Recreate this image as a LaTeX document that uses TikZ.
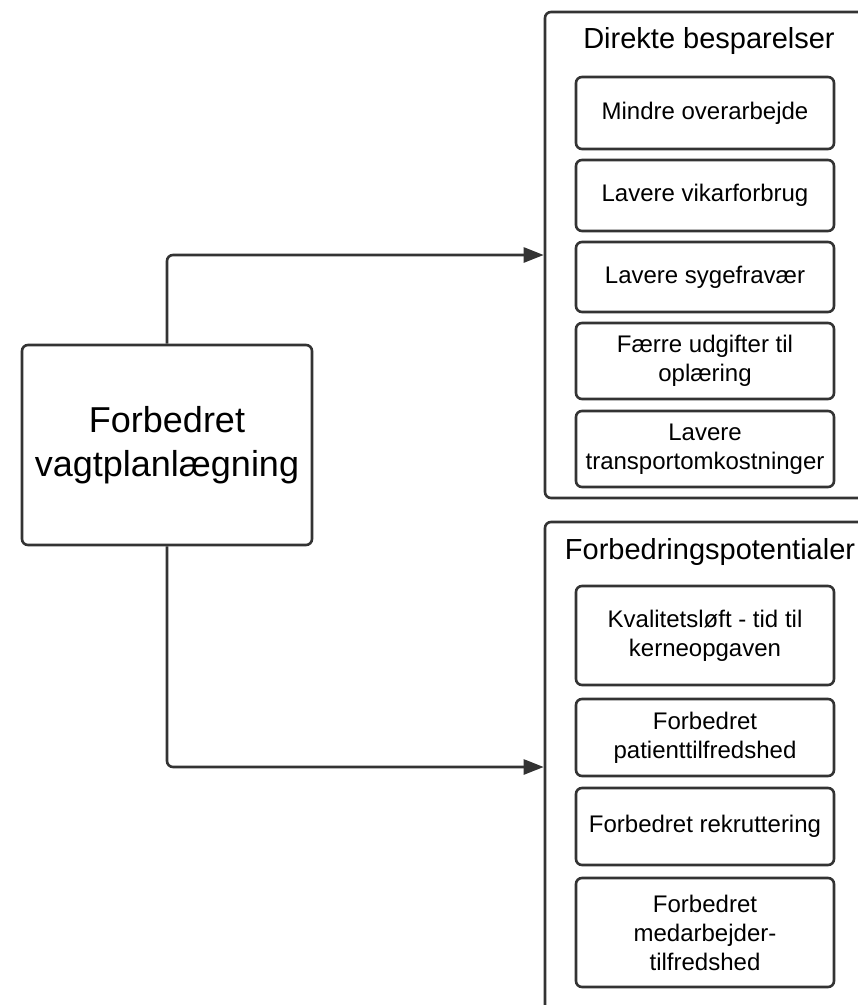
\documentclass[tikz,border=0pt]{standalone}
\usepackage{fontspec}
\setmainfont{Liberation Sans}
\usetikzlibrary{arrows.meta,positioning}
\definecolor{linegray}{HTML}{333333}

\begin{document}
\begin{tikzpicture}[x=1pt, y=-1pt,
  box/.style={draw=linegray, line width=2.6pt, rounded corners=6pt, align=center, inner sep=0pt},
  group/.style={box, minimum width=320pt},
  item/.style={box, minimum width=258pt, font=\fontsize{24}{29}\selectfont},
  title/.style={anchor=base, font=\fontsize{29}{34}\selectfont},
  link/.style={draw=linegray, line width=2.6pt, rounded corners=6pt, -{Triangle[length=20pt, width=15pt]}}]
  \useasboundingbox (0,0) rectangle (858,1005);
  \clip (0,0) rectangle (858,1005);

  % source
  \node[box, minimum width=290pt, minimum height=200pt, font=\fontsize{36}{44}\selectfont]
    (plan) at (167,445) {Forbedret\\vagtplanlægning};

  % first group
  \node[group, minimum height=486pt] (direkte) at (705,255) {};
  \node[title] (direktetitle) at (709,48) {Direkte besparelser};
  \node[item, minimum height=72pt] (over) at (705,113) {Mindre overarbejde};
  \node[item, minimum height=71pt] (vikar) at (705,195.5) {Lavere vikarforbrug};
  \node[item, minimum height=70pt] (syge) at (705,277) {Lavere sygefravær};
  \node[item, minimum height=76pt] (oplaer) at (705,361) {Færre udgifter til\\oplæring};
  \node[item, minimum height=76pt] (transport) at (705,449) {Lavere\\transportomkostninger};

  % second group
  \node[group, minimum height=490pt] (potential) at (705,767) {};
  \node[title] (potentialtitle) at (710,559) {Forbedringspotentialer};
  \node[item, minimum height=99pt] (kvalitet) at (705,635.5) {Kvalitetsløft - tid til\\kerneopgaven};
  \node[item, minimum height=77pt] (patient) at (705,737.5) {Forbedret\\patienttilfredshed};
  \node[item, minimum height=77pt] (rekrut) at (705,826.5) {Forbedret rekruttering};
  \node[item, minimum height=109pt] (medarb) at (705,932.5) {Forbedret\\medarbejder-\\tilfredshed};

  % connectors
  \draw[link] (plan.north) |- (direkte.west);
  \draw[link] (plan.south) |- (potential.west);
\end{tikzpicture}
\end{document}
